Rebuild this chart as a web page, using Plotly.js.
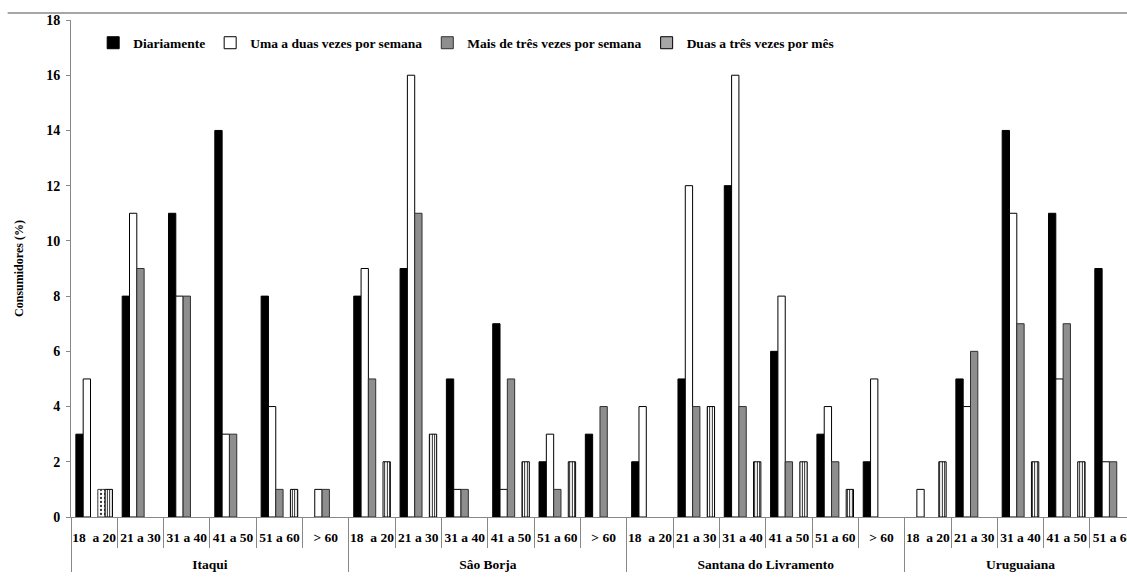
<!DOCTYPE html>
<html>
<head>
<meta charset="utf-8">
<script src="https://cdn.plot.ly/plotly-3.0.1.min.js"></script>
<style>html,body{margin:0;padding:0;background:#fff;}#chart{width:1127px;height:579px;}</style>
</head>
<body>
<div id="chart"></div>
<script>
// Cities (outer category level) and age groups (inner level)
const cities = ["Itaqui", "Sâo Borja", "Santana do Livramento", "Uruguaiana"];
const ages = ["18  a 20", "21 a 30", "31 a 40", "41 a 50", "51 a 60", "> 60"];
const agesPerCity = [6, 6, 6, 5];

// Series values (% of consumers), in order of cities x ages
const diariamente  = [3, 8, 11, 14, 8, 0,   8, 9, 5, 7, 2, 3,   2, 5, 12, 6, 3, 2,   0, 5, 14, 11, 9];
const umaADuas     = [5, 11, 8, 3, 4, 1,    9, 16, 1, 1, 3, 0,  4, 12, 16, 8, 4, 5,  1, 4, 11, 5, 2];
const maisDeTres   = [0, 9, 8, 3, 1, 1,     5, 11, 1, 5, 1, 4,  0, 4, 4, 2, 2, 0,    0, 6, 7, 7, 2];
const outraFreq    = [1, 0, 0, 0, 0, 0,     0, 0, 0, 0, 0, 0,   0, 0, 0, 0, 0, 0,    0, 0, 0, 0, 0];
const duasATresMes = [1, 0, 0, 0, 1, 0,     2, 3, 0, 2, 2, 0,   0, 4, 2, 2, 1, 0,    2, 0, 2, 2, 0];

const seriesNames = ["Diariamente", "Uma a duas vezes por semana", "Mais de três vezes por semana", "", "Duas a três vezes por mês"];

// Build the two-level category arrays (outer label pushed one line down)
const outer = [], inner = [];
cities.forEach((c, ci) => {
  for (let k = 0; k < agesPerCity[ci]; k++) { outer.push("<br>" + c); inner.push(ages[k]); }
});
const xCats = [outer, inner];
const noZero = arr => arr.map(v => (v === 0 ? null : v));

const font = "Liberation Serif, Times New Roman, serif";

const traces = [
  {name: seriesNames[0], y: noZero(diariamente), marker: {color: "#000000", line: {color: "#000000", width: 1}}},
  {name: seriesNames[1], y: noZero(umaADuas), marker: {color: "#ffffff", line: {color: "#000000", width: 1}}},
  {name: seriesNames[2], y: noZero(maisDeTres), marker: {color: "#8e8e8e", line: {color: "#303030", width: 1}}},
  {name: seriesNames[3], y: noZero(outraFreq), showlegend: false,
   marker: {color: "#ffffff", line: {color: "#444444", width: 1},
            pattern: {shape: ".", fgcolor: "#333333", bgcolor: "#ffffff", size: 4, solidity: 0.25}}},
  {name: seriesNames[4], y: noZero(duasATresMes),
   marker: {color: "#ffffff", line: {color: "#000000", width: 1},
            pattern: {shape: "|", fgcolor: "#000000", bgcolor: "#ffffff", size: 2.5, solidity: 0.35}}}
].map(t => Object.assign({type: "bar", x: xCats, hoverinfo: "y"}, t));

const layout = {
  width: 1127, height: 579,
  margin: {l: 71, r: 0, t: 20, b: 62},
  paper_bgcolor: "#ffffff", plot_bgcolor: "#ffffff",
  barmode: "group", bargap: 0.21, bargroupgap: 0,
  font: {family: font, size: 13, color: "#000"},
  showlegend: true,
  legend: {orientation: "h", x: 0.021, y: 0.985, xanchor: "left", yanchor: "top",
           font: {family: font, size: 13.5, weight: "bold", color: "#000"},
           bgcolor: "rgba(0,0,0,0)", itemwidth: 30, traceorder: "normal"},
  xaxis: {
    type: "multicategory", range: [-0.5, 22.3],
    showline: true, linecolor: "#888888", linewidth: 1,
    ticks: "outside", ticklen: 30, tickcolor: "#888888", tickwidth: 1,
    tickangle: 0, ticklabelstandoff: 8,
    showdividers: true, dividercolor: "#888888", dividerwidth: 1,
    tickfont: {family: font, size: 13.5, weight: "bold", color: "#000"},
    showgrid: false, zeroline: false, fixedrange: true
  },
  yaxis: {
    range: [0, 18], dtick: 2, tick0: 0,
    showline: true, linecolor: "#888888", linewidth: 1,
    ticks: "outside", ticklen: 4, tickcolor: "#888888",
    ticklabelstandoff: 3,
    tickfont: {family: font, size: 14, weight: "bold", color: "#000"},
    showgrid: false, zeroline: false,
    title: {text: "Consumidores (%)", font: {family: font, size: 12, weight: "bold", color: "#000"}, standoff: 20}
  },
  shapes: [
    {type: "line", xref: "paper", yref: "paper", x0: -0.06, x1: 1, y0: 1.014, y1: 1.014,
     line: {color: "#888888", width: 1.5}}
  ]
};

Plotly.newPlot("chart", traces, layout, {displayModeBar: false, staticPlot: true});
</script>
</body>
</html>
